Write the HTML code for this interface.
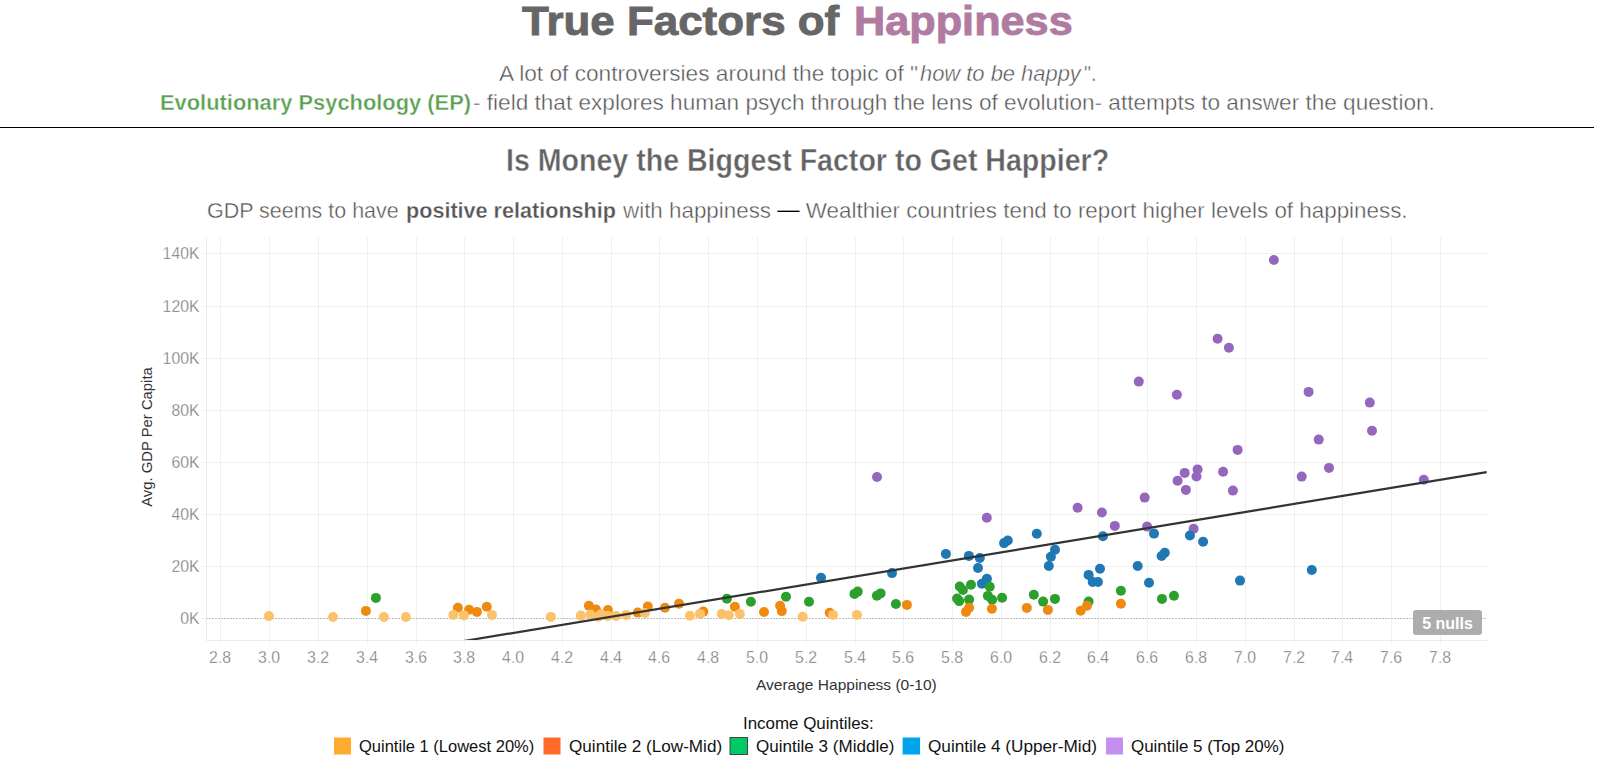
<!DOCTYPE html><html><head><meta charset="utf-8"><style>
html,body{margin:0;padding:0;background:#fff;width:1607px;height:765px;overflow:hidden;}
body{position:relative;font-family:"Liberation Sans", sans-serif;}
.t{position:absolute;white-space:nowrap;transform-origin:0 0;}
svg{position:absolute;left:0;top:0;}
</style></head><body>
<svg width="1607" height="765" viewBox="0 0 1607 765">
<rect x="0" y="127" width="1594" height="1" fill="#000"/>
<line x1="220.5" y1="237" x2="220.5" y2="644.5" stroke="#f0f0f0" stroke-width="1"/>
<line x1="269.5" y1="237" x2="269.5" y2="644.5" stroke="#f0f0f0" stroke-width="1"/>
<line x1="318.5" y1="237" x2="318.5" y2="644.5" stroke="#f0f0f0" stroke-width="1"/>
<line x1="367.5" y1="237" x2="367.5" y2="644.5" stroke="#f0f0f0" stroke-width="1"/>
<line x1="416.5" y1="237" x2="416.5" y2="644.5" stroke="#f0f0f0" stroke-width="1"/>
<line x1="464.5" y1="237" x2="464.5" y2="644.5" stroke="#f0f0f0" stroke-width="1"/>
<line x1="513.5" y1="237" x2="513.5" y2="644.5" stroke="#f0f0f0" stroke-width="1"/>
<line x1="562.5" y1="237" x2="562.5" y2="644.5" stroke="#f0f0f0" stroke-width="1"/>
<line x1="611.5" y1="237" x2="611.5" y2="644.5" stroke="#f0f0f0" stroke-width="1"/>
<line x1="659.5" y1="237" x2="659.5" y2="644.5" stroke="#f0f0f0" stroke-width="1"/>
<line x1="708.5" y1="237" x2="708.5" y2="644.5" stroke="#f0f0f0" stroke-width="1"/>
<line x1="757.5" y1="237" x2="757.5" y2="644.5" stroke="#f0f0f0" stroke-width="1"/>
<line x1="806.5" y1="237" x2="806.5" y2="644.5" stroke="#f0f0f0" stroke-width="1"/>
<line x1="855.5" y1="237" x2="855.5" y2="644.5" stroke="#f0f0f0" stroke-width="1"/>
<line x1="903.5" y1="237" x2="903.5" y2="644.5" stroke="#f0f0f0" stroke-width="1"/>
<line x1="952.5" y1="237" x2="952.5" y2="644.5" stroke="#f0f0f0" stroke-width="1"/>
<line x1="1001.5" y1="237" x2="1001.5" y2="644.5" stroke="#f0f0f0" stroke-width="1"/>
<line x1="1050.5" y1="237" x2="1050.5" y2="644.5" stroke="#f0f0f0" stroke-width="1"/>
<line x1="1098.5" y1="237" x2="1098.5" y2="644.5" stroke="#f0f0f0" stroke-width="1"/>
<line x1="1147.5" y1="237" x2="1147.5" y2="644.5" stroke="#f0f0f0" stroke-width="1"/>
<line x1="1196.5" y1="237" x2="1196.5" y2="644.5" stroke="#f0f0f0" stroke-width="1"/>
<line x1="1245.5" y1="237" x2="1245.5" y2="644.5" stroke="#f0f0f0" stroke-width="1"/>
<line x1="1294.5" y1="237" x2="1294.5" y2="644.5" stroke="#f0f0f0" stroke-width="1"/>
<line x1="1342.5" y1="237" x2="1342.5" y2="644.5" stroke="#f0f0f0" stroke-width="1"/>
<line x1="1391.5" y1="237" x2="1391.5" y2="644.5" stroke="#f0f0f0" stroke-width="1"/>
<line x1="1440.5" y1="237" x2="1440.5" y2="644.5" stroke="#f0f0f0" stroke-width="1"/>
<line x1="201" y1="566.5" x2="1487" y2="566.5" stroke="#f0f0f0" stroke-width="1"/>
<line x1="201" y1="514.5" x2="1487" y2="514.5" stroke="#f0f0f0" stroke-width="1"/>
<line x1="201" y1="462.5" x2="1487" y2="462.5" stroke="#f0f0f0" stroke-width="1"/>
<line x1="201" y1="410.5" x2="1487" y2="410.5" stroke="#f0f0f0" stroke-width="1"/>
<line x1="201" y1="358.5" x2="1487" y2="358.5" stroke="#f0f0f0" stroke-width="1"/>
<line x1="201" y1="306.5" x2="1487" y2="306.5" stroke="#f0f0f0" stroke-width="1"/>
<line x1="201" y1="253.5" x2="1487" y2="253.5" stroke="#f0f0f0" stroke-width="1"/>
<line x1="201" y1="618.5" x2="206" y2="618.5" stroke="#f0f0f0" stroke-width="1"/>
<line x1="206.5" y1="237" x2="206.5" y2="640.5" stroke="#ececec" stroke-width="1"/>
<line x1="206.5" y1="640.5" x2="1487" y2="640.5" stroke="#ececec" stroke-width="1"/>
<line x1="207" y1="618.5" x2="1487" y2="618.5" stroke="#bdbdbd" stroke-width="1" stroke-dasharray="2,1" stroke-dashoffset="1"/>
<circle cx="1138.8" cy="381.6" r="5.0" fill="#9467bd"/>
<circle cx="1176.9" cy="394.8" r="5.0" fill="#9467bd"/>
<circle cx="1217.6" cy="338.8" r="5.0" fill="#9467bd"/>
<circle cx="1228.9" cy="347.8" r="5.0" fill="#9467bd"/>
<circle cx="1273.9" cy="260.0" r="5.0" fill="#9467bd"/>
<circle cx="1308.6" cy="391.9" r="5.0" fill="#9467bd"/>
<circle cx="1369.8" cy="402.6" r="5.0" fill="#9467bd"/>
<circle cx="1372.0" cy="430.8" r="5.0" fill="#9467bd"/>
<circle cx="1318.7" cy="439.6" r="5.0" fill="#9467bd"/>
<circle cx="1329.0" cy="467.9" r="5.0" fill="#9467bd"/>
<circle cx="1301.7" cy="476.6" r="5.0" fill="#9467bd"/>
<circle cx="1423.8" cy="479.8" r="5.0" fill="#9467bd"/>
<circle cx="1237.6" cy="449.9" r="5.0" fill="#9467bd"/>
<circle cx="1184.7" cy="472.9" r="5.0" fill="#9467bd"/>
<circle cx="1197.6" cy="469.4" r="5.0" fill="#9467bd"/>
<circle cx="1196.5" cy="476.5" r="5.0" fill="#9467bd"/>
<circle cx="1177.6" cy="480.7" r="5.0" fill="#9467bd"/>
<circle cx="1185.9" cy="489.9" r="5.0" fill="#9467bd"/>
<circle cx="1223.1" cy="471.8" r="5.0" fill="#9467bd"/>
<circle cx="1232.9" cy="490.6" r="5.0" fill="#9467bd"/>
<circle cx="1144.7" cy="497.6" r="5.0" fill="#9467bd"/>
<circle cx="1077.6" cy="507.8" r="5.0" fill="#9467bd"/>
<circle cx="1101.9" cy="512.5" r="5.0" fill="#9467bd"/>
<circle cx="1114.8" cy="525.9" r="5.0" fill="#9467bd"/>
<circle cx="1147.1" cy="526.6" r="5.0" fill="#9467bd"/>
<circle cx="1193.6" cy="528.7" r="5.0" fill="#9467bd"/>
<circle cx="877.0" cy="477.0" r="5.0" fill="#9467bd"/>
<circle cx="986.8" cy="517.8" r="5.0" fill="#9467bd"/>
<circle cx="821.0" cy="577.7" r="5.0" fill="#1f77b4"/>
<circle cx="892.0" cy="573.1" r="5.0" fill="#1f77b4"/>
<circle cx="945.9" cy="553.9" r="5.0" fill="#1f77b4"/>
<circle cx="968.9" cy="555.9" r="5.0" fill="#1f77b4"/>
<circle cx="979.8" cy="558.0" r="5.0" fill="#1f77b4"/>
<circle cx="978.0" cy="568.0" r="5.0" fill="#1f77b4"/>
<circle cx="986.9" cy="578.7" r="5.0" fill="#1f77b4"/>
<circle cx="981.9" cy="583.7" r="5.0" fill="#1f77b4"/>
<circle cx="1004.1" cy="543.1" r="5.0" fill="#1f77b4"/>
<circle cx="1007.8" cy="540.5" r="5.0" fill="#1f77b4"/>
<circle cx="1036.8" cy="533.8" r="5.0" fill="#1f77b4"/>
<circle cx="1055.0" cy="549.7" r="5.0" fill="#1f77b4"/>
<circle cx="1050.9" cy="556.8" r="5.0" fill="#1f77b4"/>
<circle cx="1048.8" cy="566.0" r="5.0" fill="#1f77b4"/>
<circle cx="1102.9" cy="536.3" r="5.0" fill="#1f77b4"/>
<circle cx="1100.0" cy="568.7" r="5.0" fill="#1f77b4"/>
<circle cx="1088.6" cy="574.9" r="5.0" fill="#1f77b4"/>
<circle cx="1092.7" cy="582.0" r="5.0" fill="#1f77b4"/>
<circle cx="1097.9" cy="582.0" r="5.0" fill="#1f77b4"/>
<circle cx="1154.0" cy="533.6" r="5.0" fill="#1f77b4"/>
<circle cx="1164.8" cy="552.7" r="5.0" fill="#1f77b4"/>
<circle cx="1161.6" cy="556.0" r="5.0" fill="#1f77b4"/>
<circle cx="1137.7" cy="566.0" r="5.0" fill="#1f77b4"/>
<circle cx="1149.0" cy="582.8" r="5.0" fill="#1f77b4"/>
<circle cx="1189.9" cy="535.5" r="5.0" fill="#1f77b4"/>
<circle cx="1203.1" cy="541.7" r="5.0" fill="#1f77b4"/>
<circle cx="1240.0" cy="580.6" r="5.0" fill="#1f77b4"/>
<circle cx="1311.8" cy="570.0" r="5.0" fill="#1f77b4"/>
<circle cx="375.9" cy="597.9" r="5.0" fill="#2ca02c"/>
<circle cx="726.9" cy="598.8" r="5.0" fill="#2ca02c"/>
<circle cx="750.9" cy="601.8" r="5.0" fill="#2ca02c"/>
<circle cx="786.0" cy="596.8" r="5.0" fill="#2ca02c"/>
<circle cx="809.0" cy="601.8" r="5.0" fill="#2ca02c"/>
<circle cx="854.5" cy="593.9" r="5.0" fill="#2ca02c"/>
<circle cx="857.7" cy="591.6" r="5.0" fill="#2ca02c"/>
<circle cx="876.9" cy="595.7" r="5.0" fill="#2ca02c"/>
<circle cx="880.6" cy="593.4" r="5.0" fill="#2ca02c"/>
<circle cx="895.9" cy="604.0" r="5.0" fill="#2ca02c"/>
<circle cx="959.7" cy="586.5" r="5.0" fill="#2ca02c"/>
<circle cx="962.9" cy="590.0" r="5.0" fill="#2ca02c"/>
<circle cx="971.0" cy="584.7" r="5.0" fill="#2ca02c"/>
<circle cx="957.1" cy="598.5" r="5.0" fill="#2ca02c"/>
<circle cx="959.2" cy="601.1" r="5.0" fill="#2ca02c"/>
<circle cx="969.1" cy="599.6" r="5.0" fill="#2ca02c"/>
<circle cx="989.8" cy="586.8" r="5.0" fill="#2ca02c"/>
<circle cx="987.9" cy="595.9" r="5.0" fill="#2ca02c"/>
<circle cx="992.1" cy="599.8" r="5.0" fill="#2ca02c"/>
<circle cx="1002.1" cy="597.8" r="5.0" fill="#2ca02c"/>
<circle cx="1033.8" cy="594.8" r="5.0" fill="#2ca02c"/>
<circle cx="1043.1" cy="601.6" r="5.0" fill="#2ca02c"/>
<circle cx="1055.0" cy="598.9" r="5.0" fill="#2ca02c"/>
<circle cx="1088.6" cy="601.6" r="5.0" fill="#2ca02c"/>
<circle cx="1120.9" cy="590.7" r="5.0" fill="#2ca02c"/>
<circle cx="1162.0" cy="598.9" r="5.0" fill="#2ca02c"/>
<circle cx="1174.0" cy="595.7" r="5.0" fill="#2ca02c"/>
<circle cx="365.9" cy="610.9" r="5.0" fill="#ef8a10"/>
<circle cx="457.9" cy="607.7" r="5.0" fill="#ef8a10"/>
<circle cx="469.1" cy="609.7" r="5.0" fill="#ef8a10"/>
<circle cx="476.9" cy="611.9" r="5.0" fill="#ef8a10"/>
<circle cx="486.8" cy="606.7" r="5.0" fill="#ef8a10"/>
<circle cx="588.9" cy="605.7" r="5.0" fill="#ef8a10"/>
<circle cx="596.0" cy="609.5" r="5.0" fill="#ef8a10"/>
<circle cx="607.9" cy="610.0" r="5.0" fill="#ef8a10"/>
<circle cx="637.7" cy="612.6" r="5.0" fill="#ef8a10"/>
<circle cx="647.8" cy="606.5" r="5.0" fill="#ef8a10"/>
<circle cx="665.0" cy="607.7" r="5.0" fill="#ef8a10"/>
<circle cx="679.0" cy="603.7" r="5.0" fill="#ef8a10"/>
<circle cx="703.3" cy="611.6" r="5.0" fill="#ef8a10"/>
<circle cx="734.9" cy="606.7" r="5.0" fill="#ef8a10"/>
<circle cx="764.0" cy="612.0" r="5.0" fill="#ef8a10"/>
<circle cx="780.1" cy="605.7" r="5.0" fill="#ef8a10"/>
<circle cx="781.8" cy="611.1" r="5.0" fill="#ef8a10"/>
<circle cx="829.7" cy="612.7" r="5.0" fill="#ef8a10"/>
<circle cx="906.9" cy="604.9" r="5.0" fill="#ef8a10"/>
<circle cx="969.1" cy="607.7" r="5.0" fill="#ef8a10"/>
<circle cx="966.0" cy="611.9" r="5.0" fill="#ef8a10"/>
<circle cx="991.9" cy="608.8" r="5.0" fill="#ef8a10"/>
<circle cx="1026.8" cy="607.9" r="5.0" fill="#ef8a10"/>
<circle cx="1047.9" cy="609.9" r="5.0" fill="#ef8a10"/>
<circle cx="1087.0" cy="605.8" r="5.0" fill="#ef8a10"/>
<circle cx="1080.7" cy="610.8" r="5.0" fill="#ef8a10"/>
<circle cx="1120.9" cy="603.7" r="5.0" fill="#ef8a10"/>
<circle cx="268.9" cy="616.1" r="5.0" fill="#fbc26c"/>
<circle cx="333.0" cy="617.0" r="5.0" fill="#fbc26c"/>
<circle cx="383.9" cy="617.0" r="5.0" fill="#fbc26c"/>
<circle cx="405.9" cy="617.0" r="5.0" fill="#fbc26c"/>
<circle cx="453.4" cy="614.9" r="5.0" fill="#fbc26c"/>
<circle cx="463.9" cy="615.4" r="5.0" fill="#fbc26c"/>
<circle cx="492.0" cy="614.9" r="5.0" fill="#fbc26c"/>
<circle cx="550.9" cy="616.9" r="5.0" fill="#fbc26c"/>
<circle cx="580.8" cy="615.6" r="5.0" fill="#fbc26c"/>
<circle cx="590.5" cy="614.6" r="5.0" fill="#fbc26c"/>
<circle cx="598.3" cy="616.7" r="5.0" fill="#fbc26c"/>
<circle cx="601.0" cy="614.3" r="5.0" fill="#fbc26c"/>
<circle cx="607.5" cy="615.9" r="5.0" fill="#fbc26c"/>
<circle cx="616.0" cy="615.9" r="5.0" fill="#fbc26c"/>
<circle cx="626.0" cy="614.9" r="5.0" fill="#fbc26c"/>
<circle cx="644.9" cy="613.0" r="5.0" fill="#fbc26c"/>
<circle cx="690.0" cy="615.8" r="5.0" fill="#fbc26c"/>
<circle cx="700.0" cy="613.9" r="5.0" fill="#fbc26c"/>
<circle cx="721.8" cy="613.9" r="5.0" fill="#fbc26c"/>
<circle cx="728.9" cy="615.2" r="5.0" fill="#fbc26c"/>
<circle cx="739.8" cy="613.9" r="5.0" fill="#fbc26c"/>
<circle cx="802.7" cy="616.8" r="5.0" fill="#fbc26c"/>
<circle cx="833.0" cy="614.9" r="5.0" fill="#fbc26c"/>
<circle cx="857.0" cy="614.9" r="5.0" fill="#fbc26c"/>
<clipPath id="pc"><rect x="207" y="237" width="1280" height="403"/></clipPath>
<line x1="400" y1="651.6" x2="1486.7" y2="472.1" stroke="#333" stroke-width="2.2" clip-path="url(#pc)"/>
<rect x="1413" y="610" width="69" height="25" rx="3" ry="3" fill="#adadad"/>
<rect x="334" y="737.5" width="17" height="17" fill="#ffab2e"/>
<rect x="543.5" y="737.5" width="17" height="17" fill="#ff6a28"/>
<rect x="730" y="737.5" width="17.5" height="17" fill="#00c965" stroke="#444" stroke-width="1"/>
<rect x="902.6" y="737.5" width="17.5" height="17" fill="#00a4ea"/>
<rect x="1106" y="737.5" width="17" height="17" fill="#c58ef0"/>
</svg>
<div class="t" style="right:1407.5px;top:610.63px;font-size:15.8px;line-height:15.8px;color:#646464;-webkit-text-stroke:0.4px #fff;">0K</div>
<div class="t" style="right:1407.5px;top:558.63px;font-size:15.8px;line-height:15.8px;color:#646464;-webkit-text-stroke:0.4px #fff;">20K</div>
<div class="t" style="right:1407.5px;top:506.63px;font-size:15.8px;line-height:15.8px;color:#646464;-webkit-text-stroke:0.4px #fff;">40K</div>
<div class="t" style="right:1407.5px;top:454.63px;font-size:15.8px;line-height:15.8px;color:#646464;-webkit-text-stroke:0.4px #fff;">60K</div>
<div class="t" style="right:1407.5px;top:402.63px;font-size:15.8px;line-height:15.8px;color:#646464;-webkit-text-stroke:0.4px #fff;">80K</div>
<div class="t" style="right:1407.5px;top:350.63px;font-size:15.8px;line-height:15.8px;color:#646464;-webkit-text-stroke:0.4px #fff;">100K</div>
<div class="t" style="right:1407.5px;top:298.63px;font-size:15.8px;line-height:15.8px;color:#646464;-webkit-text-stroke:0.4px #fff;">120K</div>
<div class="t" style="right:1407.5px;top:245.63px;font-size:15.8px;line-height:15.8px;color:#646464;-webkit-text-stroke:0.4px #fff;">140K</div>
<div class="t" style="left:180.10px;width:80px;text-align:center;top:649.53px;font-size:15.8px;line-height:15.8px;color:#646464;-webkit-text-stroke:0.4px #fff;">2.8</div>
<div class="t" style="left:229.10px;width:80px;text-align:center;top:649.53px;font-size:15.8px;line-height:15.8px;color:#646464;-webkit-text-stroke:0.4px #fff;">3.0</div>
<div class="t" style="left:278.10px;width:80px;text-align:center;top:649.53px;font-size:15.8px;line-height:15.8px;color:#646464;-webkit-text-stroke:0.4px #fff;">3.2</div>
<div class="t" style="left:327.10px;width:80px;text-align:center;top:649.53px;font-size:15.8px;line-height:15.8px;color:#646464;-webkit-text-stroke:0.4px #fff;">3.4</div>
<div class="t" style="left:376.10px;width:80px;text-align:center;top:649.53px;font-size:15.8px;line-height:15.8px;color:#646464;-webkit-text-stroke:0.4px #fff;">3.6</div>
<div class="t" style="left:424.10px;width:80px;text-align:center;top:649.53px;font-size:15.8px;line-height:15.8px;color:#646464;-webkit-text-stroke:0.4px #fff;">3.8</div>
<div class="t" style="left:473.10px;width:80px;text-align:center;top:649.53px;font-size:15.8px;line-height:15.8px;color:#646464;-webkit-text-stroke:0.4px #fff;">4.0</div>
<div class="t" style="left:522.10px;width:80px;text-align:center;top:649.53px;font-size:15.8px;line-height:15.8px;color:#646464;-webkit-text-stroke:0.4px #fff;">4.2</div>
<div class="t" style="left:571.10px;width:80px;text-align:center;top:649.53px;font-size:15.8px;line-height:15.8px;color:#646464;-webkit-text-stroke:0.4px #fff;">4.4</div>
<div class="t" style="left:619.10px;width:80px;text-align:center;top:649.53px;font-size:15.8px;line-height:15.8px;color:#646464;-webkit-text-stroke:0.4px #fff;">4.6</div>
<div class="t" style="left:668.10px;width:80px;text-align:center;top:649.53px;font-size:15.8px;line-height:15.8px;color:#646464;-webkit-text-stroke:0.4px #fff;">4.8</div>
<div class="t" style="left:717.10px;width:80px;text-align:center;top:649.53px;font-size:15.8px;line-height:15.8px;color:#646464;-webkit-text-stroke:0.4px #fff;">5.0</div>
<div class="t" style="left:766.10px;width:80px;text-align:center;top:649.53px;font-size:15.8px;line-height:15.8px;color:#646464;-webkit-text-stroke:0.4px #fff;">5.2</div>
<div class="t" style="left:815.10px;width:80px;text-align:center;top:649.53px;font-size:15.8px;line-height:15.8px;color:#646464;-webkit-text-stroke:0.4px #fff;">5.4</div>
<div class="t" style="left:863.10px;width:80px;text-align:center;top:649.53px;font-size:15.8px;line-height:15.8px;color:#646464;-webkit-text-stroke:0.4px #fff;">5.6</div>
<div class="t" style="left:912.10px;width:80px;text-align:center;top:649.53px;font-size:15.8px;line-height:15.8px;color:#646464;-webkit-text-stroke:0.4px #fff;">5.8</div>
<div class="t" style="left:961.10px;width:80px;text-align:center;top:649.53px;font-size:15.8px;line-height:15.8px;color:#646464;-webkit-text-stroke:0.4px #fff;">6.0</div>
<div class="t" style="left:1010.10px;width:80px;text-align:center;top:649.53px;font-size:15.8px;line-height:15.8px;color:#646464;-webkit-text-stroke:0.4px #fff;">6.2</div>
<div class="t" style="left:1058.10px;width:80px;text-align:center;top:649.53px;font-size:15.8px;line-height:15.8px;color:#646464;-webkit-text-stroke:0.4px #fff;">6.4</div>
<div class="t" style="left:1107.10px;width:80px;text-align:center;top:649.53px;font-size:15.8px;line-height:15.8px;color:#646464;-webkit-text-stroke:0.4px #fff;">6.6</div>
<div class="t" style="left:1156.10px;width:80px;text-align:center;top:649.53px;font-size:15.8px;line-height:15.8px;color:#646464;-webkit-text-stroke:0.4px #fff;">6.8</div>
<div class="t" style="left:1205.10px;width:80px;text-align:center;top:649.53px;font-size:15.8px;line-height:15.8px;color:#646464;-webkit-text-stroke:0.4px #fff;">7.0</div>
<div class="t" style="left:1254.10px;width:80px;text-align:center;top:649.53px;font-size:15.8px;line-height:15.8px;color:#646464;-webkit-text-stroke:0.4px #fff;">7.2</div>
<div class="t" style="left:1302.10px;width:80px;text-align:center;top:649.53px;font-size:15.8px;line-height:15.8px;color:#646464;-webkit-text-stroke:0.4px #fff;">7.4</div>
<div class="t" style="left:1351.10px;width:80px;text-align:center;top:649.53px;font-size:15.8px;line-height:15.8px;color:#646464;-webkit-text-stroke:0.4px #fff;">7.6</div>
<div class="t" style="left:1400.10px;width:80px;text-align:center;top:649.53px;font-size:15.8px;line-height:15.8px;color:#646464;-webkit-text-stroke:0.4px #fff;">7.8</div>
<div class="t" id="yt" style="left:146.8px;top:436.8px;font-size:14.2px;line-height:14.2px;color:#333;transform:translate(-50%,-50%) rotate(-90deg) scaleX(1.045);transform-origin:50% 50%;">Avg. GDP Per Capita</div>
<div class="t" style="left:1413px;width:69px;text-align:center;top:616px;font-size:16px;line-height:16px;color:#fff;font-weight:bold;">5 nulls</div>
<div class="t" id="t1" style="left:522.00px;top:1.29px;font-size:41px;line-height:41px;color:#666666;font-weight:bold;font-style:normal;transform:scaleX(1.0710);-webkit-text-stroke:0.9px #666666;">True Factors of</div>
<div class="t" id="t2" style="left:854.08px;top:1.29px;font-size:41px;line-height:41px;color:#b07aa1;font-weight:bold;font-style:normal;transform:scaleX(1.0548);-webkit-text-stroke:0.9px #b07aa1;">Happiness</div>
<div class="t" id="l1a" style="left:499.40px;top:63.70px;font-size:21.5px;line-height:21.5px;color:#525252;font-weight:normal;font-style:normal;transform:scaleX(1.0549);-webkit-text-stroke:0.4px #fff;">A lot of controversies around the topic of "</div>
<div class="t" id="l1b" style="left:920.10px;top:63.70px;font-size:21.5px;line-height:21.5px;color:#525252;font-weight:normal;font-style:italic;transform:scaleX(1.0190);-webkit-text-stroke:0.4px #fff;">how to be happy</div>
<div class="t" id="l1c" style="left:1084.13px;top:63.70px;font-size:21.5px;line-height:21.5px;color:#525252;font-weight:normal;font-style:normal;transform:scaleX(0.9208);-webkit-text-stroke:0.4px #fff;">".</div>
<div class="t" id="l2a" style="left:160.19px;top:93.30px;font-size:21.5px;line-height:21.5px;color:#59a14f;font-weight:bold;font-style:normal;transform:scaleX(1.0170);-webkit-text-stroke:0.35px #fff;">Evolutionary Psychology (EP)</div>
<div class="t" id="l2b" style="left:473.40px;top:93.30px;font-size:21.5px;line-height:21.5px;color:#525252;font-weight:normal;font-style:normal;transform:scaleX(1.0506);-webkit-text-stroke:0.4px #fff;">- field that explores human psych through the lens of evolution- attempts to answer the question.</div>
<div class="t" id="h1" style="left:506.46px;top:145.48px;font-size:30.5px;line-height:30.5px;color:#636363;font-weight:bold;font-style:normal;transform:scaleX(0.9366);-webkit-text-stroke:0.4px #fff;">Is Money the Biggest Factor to Get Happier?</div>
<div class="t" id="l4a" style="left:207.47px;top:200.80px;font-size:21.5px;line-height:21.5px;color:#525252;font-weight:normal;font-style:normal;transform:scaleX(0.9986);-webkit-text-stroke:0.4px #fff;">GDP seems to have</div>
<div class="t" id="l4b" style="left:405.70px;top:200.80px;font-size:21.5px;line-height:21.5px;color:#555555;font-weight:bold;font-style:normal;transform:scaleX(1.0043);-webkit-text-stroke:0.3px #fff;">positive relationship</div>
<div class="t" id="l4c" style="left:622.70px;top:200.80px;font-size:21.5px;line-height:21.5px;color:#525252;font-weight:normal;font-style:normal;transform:scaleX(1.0409);-webkit-text-stroke:0.4px #fff;">with happiness <span style="color:#000;-webkit-text-stroke:0.25px #fff;position:relative;top:-1px">—</span> Wealthier countries tend to report higher levels of happiness.</div>
<div class="t" id="xt" style="left:756.40px;top:678.08px;font-size:14.2px;line-height:14.2px;color:#333333;font-weight:normal;font-style:normal;transform:scaleX(1.0933);">Average Happiness (0-10)</div>
<div class="t" id="lg0" style="left:742.51px;top:715.76px;font-size:16px;line-height:16px;color:#111111;font-weight:normal;font-style:normal;transform:scaleX(1.0578);">Income Quintiles:</div>
<div class="t" id="lg1" style="left:359.10px;top:738.03px;font-size:16.5px;line-height:16.5px;color:#111111;font-weight:normal;font-style:normal;transform:scaleX(1.0006);">Quintile 1 (Lowest 20%)</div>
<div class="t" id="lg2" style="left:569.30px;top:738.03px;font-size:16.5px;line-height:16.5px;color:#111111;font-weight:normal;font-style:normal;transform:scaleX(1.0372);">Quintile 2 (Low-Mid)</div>
<div class="t" id="lg3" style="left:755.90px;top:738.03px;font-size:16.5px;line-height:16.5px;color:#111111;font-weight:normal;font-style:normal;transform:scaleX(1.0336);">Quintile 3 (Middle)</div>
<div class="t" id="lg4" style="left:928.40px;top:738.03px;font-size:16.5px;line-height:16.5px;color:#111111;font-weight:normal;font-style:normal;transform:scaleX(1.0408);">Quintile 4 (Upper-Mid)</div>
<div class="t" id="lg5" style="left:1130.90px;top:738.03px;font-size:16.5px;line-height:16.5px;color:#111111;font-weight:normal;font-style:normal;transform:scaleX(1.0261);">Quintile 5 (Top 20%)</div>
</body></html>
